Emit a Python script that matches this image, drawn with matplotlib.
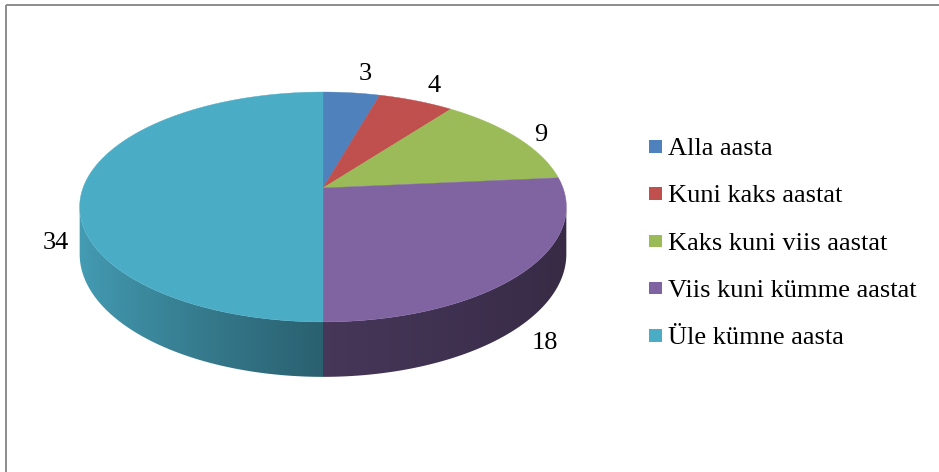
import numpy as np
import matplotlib
matplotlib.use("Agg")
import matplotlib.pyplot as plt
from matplotlib.patches import Polygon, Rectangle
from matplotlib.colors import to_rgb

# ---------------- data ----------------
categories = ["Alla aasta", "Kuni kaks aastat", "Kaks kuni viis aastat",
              "Viis kuni kümme aastat", "Üle kümne aasta"]
values = [3, 4, 9, 18, 34]
colors = ["#4F81BD", "#C0504D", "#9BBB59", "#8064A2", "#4BACC6"]

# ---------------- styling / geometry ----------------
FONT = ["Liberation Serif", "Times New Roman", "DejaVu Serif"]
FS = 19
CX, CY = 323, 188          # pie centre (pixels)
A, B = 240, 111.8          # projected radii
K = 0.165                  # perspective factor
T = 45.9                   # thickness
label_offsets = [(13.5, -21.8), (18, -17.3), (24, -5.6), (22.4, 16), (-27, 6)]

plt.rcParams["font.family"] = FONT

fig = plt.figure(figsize=(9.39, 4.72), dpi=100)
ax = fig.add_axes([0, 0, 1, 1])
ax.set_xlim(0, 939)
ax.set_ylim(472, 0)
ax.axis("off")


def proj(theta_deg, r=1.0, h=0.0):
    t = np.radians(theta_deg)
    den = 1 + K * r * np.cos(t)
    x = CX + A * r * np.sin(t) / den
    y = CY - B * r * np.cos(t) / den + h * T / den
    return x, y


def shade(theta_deg):
    s = np.sin(np.radians(theta_deg))
    return np.where(s < 0, 0.56 + 0.36 * (-s), 0.55 - 0.13 * s)


total = float(sum(values))
cum = np.concatenate([[0], np.cumsum(values)]) / total * 360.0

lo = np.degrees(np.arccos(-K))
hi = 360 - lo

# mapping screen x -> angle on the visible front wall
th_dense = np.linspace(lo, hi, 2000)
x_dense, _ = proj(th_dense)
order = np.argsort(x_dense)
xs_img = np.arange(60, 600, 0.5)
th_of_x = np.interp(xs_img, x_dense[order], th_dense[order])
shade_row = shade(th_of_x)

# side walls, smooth gradient clipped to each wall polygon
for i, c in enumerate(colors):
    a0, a1 = max(cum[i], lo), min(cum[i + 1], hi)
    if a0 >= a1:
        continue
    ts = np.linspace(a0, a1, 400)
    tx, ty = proj(ts)
    bx, by = proj(ts[::-1], h=1)
    pts = list(zip(tx, ty)) + list(zip(bx, by))
    poly = Polygon(pts, closed=True, facecolor="none", edgecolor="none")
    ax.add_patch(poly)
    base = np.array(to_rgb(c))
    img = np.clip(shade_row[None, :, None] * base[None, None, :], 0, 1)
    img = np.repeat(img, 2, axis=0)
    im = ax.imshow(img, extent=[xs_img[0], xs_img[-1], 400, 150],
                   aspect="auto", interpolation="bilinear", zorder=1)
    im.set_clip_path(poly)

ax.set_xlim(0, 939)
ax.set_ylim(472, 0)

# top faces
for i, c in enumerate(colors):
    n = max(4, int((cum[i + 1] - cum[i]) / 0.5))
    ts = np.linspace(cum[i], cum[i + 1], n + 1)
    xs, ys = proj(ts)
    pts = [(CX, CY)] + list(zip(xs, ys))
    ax.add_patch(Polygon(pts, closed=True, facecolor=c, edgecolor=c,
                         linewidth=0.3, zorder=2))

# data labels
for i, v in enumerate(values):
    mid = (cum[i] + cum[i + 1]) / 2
    h = 1 if np.cos(np.radians(mid)) <= 1e-9 else 0
    x, y = proj(mid, h=h)
    dx, dy = label_offsets[i]
    ax.text(x + dx, y + dy + 8.8, str(v), fontsize=FS, family=FONT,
            ha="center", va="baseline", color="black", zorder=3)

# legend
leg_x, leg_y0, leg_dy = 649, 155, 47.3
for i, (cat, c) in enumerate(zip(categories, colors)):
    yb = leg_y0 + i * leg_dy
    ax.add_patch(Rectangle((leg_x, yb - 15), 12.5, 12.5, facecolor=c,
                           edgecolor="none", zorder=3))
    ax.text(leg_x + 19, yb, cat, fontsize=FS, family=FONT,
            ha="left", va="baseline", color="black", zorder=3)

# chart border (partially visible)
ax.plot([6, 6], [472, 5], color="#8c8c8c", lw=1.4, solid_capstyle="butt")
ax.plot([6, 939], [5, 5], color="#8c8c8c", lw=1.4, solid_capstyle="butt")

fig.savefig("out.png", dpi=100)
